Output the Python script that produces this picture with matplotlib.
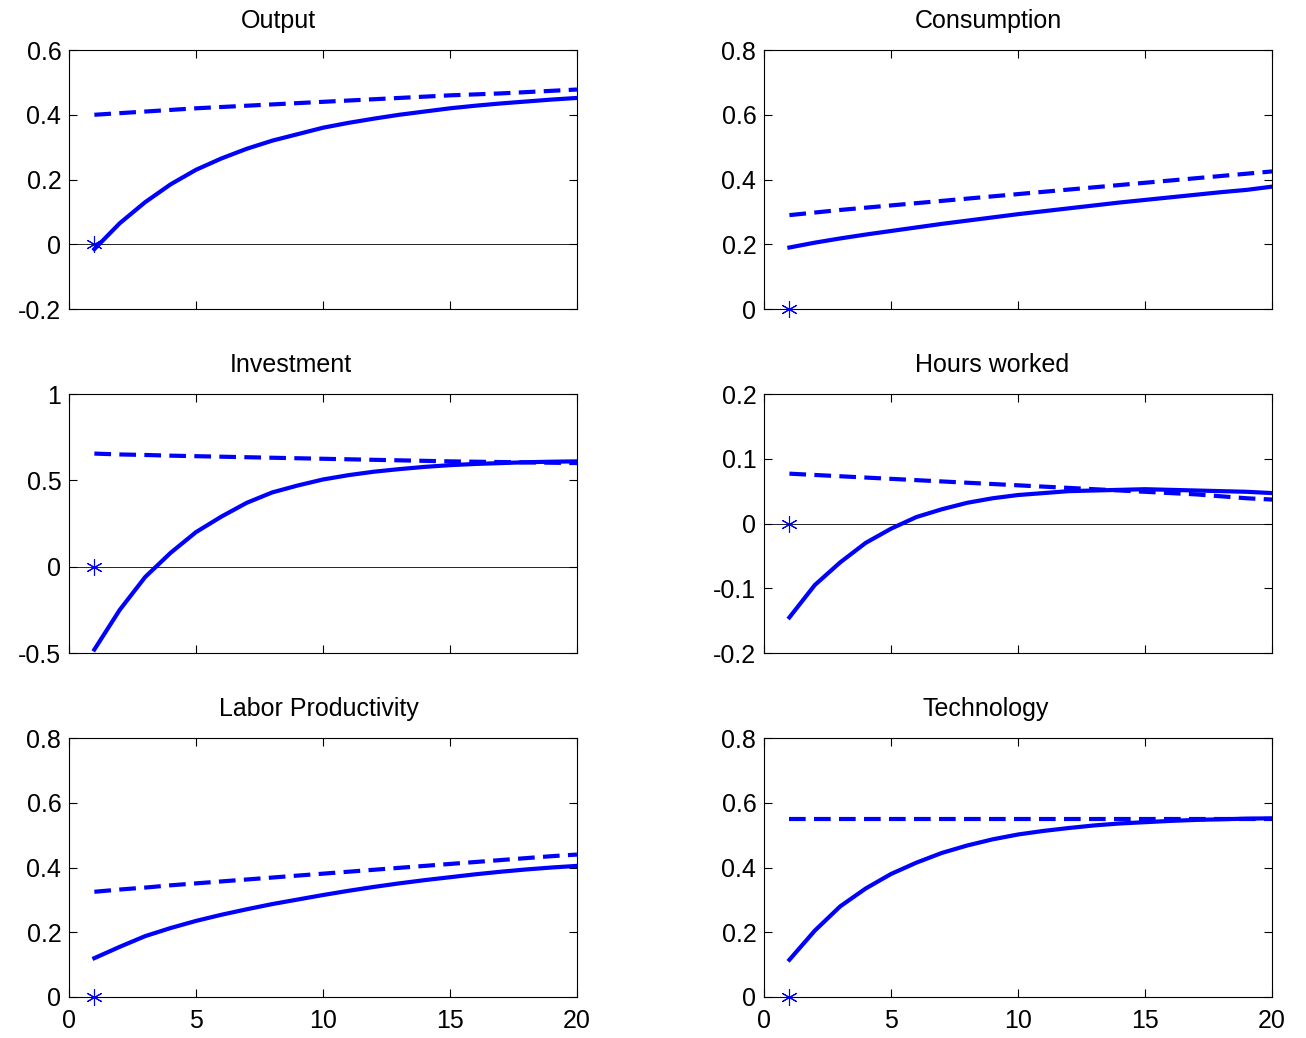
import matplotlib.pyplot as plt
from matplotlib.ticker import FuncFormatter

plt.rcParams['font.family'] = ['Liberation Sans', 'DejaVu Sans']
plt.rcParams['axes.unicode_minus'] = False

periods = list(range(1, 21))

titles = ["Output", "Consumption", "Investment", "Hours worked",
          "Labor Productivity", "Technology"]

output_solid = [-0.015, 0.065, 0.13, 0.185, 0.23, 0.265, 0.295, 0.32, 0.34, 0.36,
                0.375, 0.388, 0.40, 0.41, 0.42, 0.428, 0.435, 0.441, 0.447, 0.452]
output_dash = [0.40, 0.405, 0.41, 0.415, 0.42, 0.424, 0.428, 0.432, 0.436, 0.44,
               0.444, 0.448, 0.452, 0.456, 0.46, 0.463, 0.466, 0.47, 0.474, 0.478]

cons_solid = [0.19, 0.205, 0.218, 0.23, 0.241, 0.252, 0.263, 0.273, 0.283, 0.293,
              0.302, 0.311, 0.32, 0.329, 0.337, 0.345, 0.353, 0.361, 0.368, 0.378]
cons_dash = [0.29, 0.298, 0.306, 0.313, 0.32, 0.327, 0.334, 0.341, 0.348, 0.355,
             0.362, 0.369, 0.376, 0.383, 0.39, 0.397, 0.404, 0.411, 0.418, 0.425]

inv_solid = [-0.48, -0.25, -0.06, 0.08, 0.2, 0.29, 0.37, 0.43, 0.47, 0.505,
             0.53, 0.55, 0.565, 0.578, 0.588, 0.595, 0.60, 0.605, 0.608, 0.61]
inv_dash = [0.655, 0.65, 0.647, 0.643, 0.64, 0.637, 0.634, 0.631, 0.628, 0.625,
            0.622, 0.619, 0.616, 0.613, 0.61, 0.608, 0.606, 0.604, 0.602, 0.60]

hours_solid = [-0.145, -0.095, -0.06, -0.03, -0.008, 0.01, 0.022, 0.032, 0.039, 0.044,
               0.047, 0.05, 0.051, 0.052, 0.053, 0.052, 0.051, 0.05, 0.049, 0.047]
hours_dash = [0.077, 0.075, 0.073, 0.071, 0.069, 0.067, 0.065, 0.063, 0.061, 0.059,
              0.057, 0.055, 0.053, 0.051, 0.049, 0.047, 0.045, 0.042, 0.039, 0.037]

lp_solid = [0.12, 0.155, 0.188, 0.213, 0.235, 0.254, 0.271, 0.287, 0.301, 0.315,
            0.328, 0.34, 0.351, 0.361, 0.37, 0.379, 0.387, 0.394, 0.4, 0.405]
lp_dash = [0.325, 0.332, 0.338, 0.345, 0.351, 0.357, 0.363, 0.369, 0.375, 0.381,
           0.387, 0.393, 0.399, 0.405, 0.411, 0.417, 0.423, 0.429, 0.435, 0.44]

tech_solid = [0.115, 0.205, 0.28, 0.335, 0.38, 0.415, 0.445, 0.468, 0.487, 0.502,
              0.513, 0.522, 0.53, 0.536, 0.54, 0.544, 0.547, 0.549, 0.551, 0.552]
tech_dash = [0.55] * 20

# impact star at period 1
star_x = [1]
star_y = [0]

solids = [output_solid, cons_solid, inv_solid, hours_solid, lp_solid, tech_solid]
dashes = [output_dash, cons_dash, inv_dash, hours_dash, lp_dash, tech_dash]
yticks = [[-0.2, 0, 0.2, 0.4, 0.6],
          [0, 0.2, 0.4, 0.6, 0.8],
          [-0.5, 0, 0.5, 1],
          [-0.2, -0.1, 0, 0.1, 0.2],
          [0, 0.2, 0.4, 0.6, 0.8],
          [0, 0.2, 0.4, 0.6, 0.8]]

W, H = 1306, 1038
fig = plt.figure(figsize=(W / 100, H / 100), dpi=100)

lefts = [0.0528, 0.585]
bottoms = [0.7023, 0.3709, 0.0395]
w, h = 0.389, 0.2495

# title placement (matlab export puts them a bit off-centre)
title_x = [278, 988, 291, 992, 319, 986]
title_base = [28, 372, 716]

fmt = FuncFormatter(lambda v, p: ('%g' % round(v, 3)))

for i in range(6):
    r, c = divmod(i, 2)
    ax = fig.add_axes([lefts[c], bottoms[r], w, h])
    ax.axhline(0, color='black', lw=0.6, zorder=1)
    ax.plot(periods, solids[i], color='blue', lw=3, zorder=3)
    ax.plot(periods, dashes[i], color='blue', lw=3, dashes=(4, 2), zorder=3)
    ax.plot(star_x, star_y, ls='none', marker=(6, 2, 0), ms=12, mew=0.8,
            color='blue', zorder=4, clip_on=False)
    ax.set_xlim(0, 20)
    ax.set_ylim(yticks[i][0], yticks[i][-1])
    ax.set_yticks(yticks[i])
    ax.set_xticks([0, 5, 10, 15, 20])
    ax.yaxis.set_major_formatter(fmt)
    ax.tick_params(direction='in', top=True, right=True, length=6,
                   labelsize=18, width=0.8)
    ax.tick_params(axis='y', pad=5.5)
    ax.tick_params(axis='x', pad=9)
    if r < 2:
        ax.tick_params(labelbottom=False)
    fig.text(title_x[i] / W, 1 - title_base[r] / H, titles[i], fontsize=18,
             ha='center', va='baseline')

plt.savefig('out.png', dpi=100)
